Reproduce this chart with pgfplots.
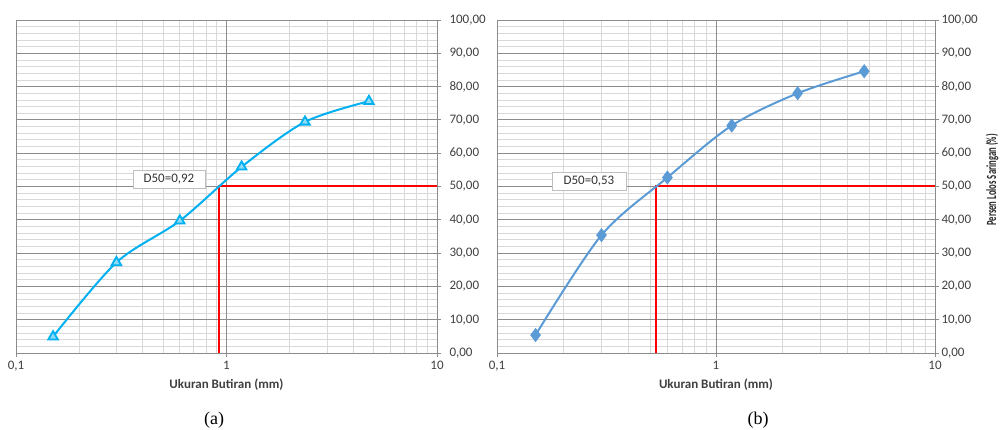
\documentclass[border=0pt]{standalone}
\usepackage{pgfplots}
\pgfplotsset{compat=1.18}
\usepackage{fontspec}
\setmainfont{Carlito}
\newfontfamily\capfont{Liberation Serif}
\definecolor{majg}{HTML}{8C8C8C}
\definecolor{ming}{HTML}{D9D9D9}
\definecolor{seriesA}{HTML}{00B0F0}
\definecolor{seriesB}{HTML}{5B9BD5}
\definecolor{boxg}{HTML}{BFBFBF}
\pgfplotsset{
  every axis/.append style={
    scale only axis,
    anchor=south west,
    height=333pt,
    xmin=0.1, xmax=10,
    ymin=0, ymax=100,
    xtick={0.1,1,10}, xticklabels={{0,1},1,10},
    ytick={0,10,...,100},
    minor ytick={2,4,6,8,12,14,16,18,22,24,26,28,32,34,36,38,42,44,46,48,52,54,56,58,62,64,66,68,72,74,76,78,82,84,86,88,92,94,96,98},
    grid=both,
    major grid style={majg, line width=0.8pt},
    minor grid style={ming, line width=0.8pt},
    axis line style={majg, line width=0.8pt},
    tick style={majg, line width=0.8pt},
    tick align=outside,
    major tick length=4pt,
    minor tick length=0pt,
    yticklabel pos=right,
    ytick pos=right,
    xtick pos=bottom,
    ticklabel style={font=\fontsize{13}{15}\selectfont, text=black!75},
    /pgf/number format/assume math mode=true,
    yticklabel={\pgfmathprintnumber[fixed, fixed zerofill, precision=2, use comma, 1000 sep={}]{\tick}},
    yticklabel style={anchor=west},
    xticklabel style={yshift=-1pt},
    xlabel={\bfseries Ukuran Butiran (mm)},
    xlabel style={font=\fontsize{13}{15}\selectfont, text=black!75, yshift=0pt},
  }
}
\begin{document}
\begin{tikzpicture}
\useasboundingbox (0,0) rectangle (1000pt,430pt);
% (a)
\begin{semilogxaxis}[at={(16pt,77pt)}, width=421pt,
  yticklabel style={xshift=5pt}]
\addplot[majg, line width=0.9pt, forget plot] coordinates {(1,0) (1,100)};
\addplot[red, line width=2pt] coordinates {(0.92,0) (0.92,50) (10,50)};
\addplot[seriesA, line width=2pt, smooth, mark=triangle*,
  mark size=5.5pt, mark options={solid, line width=1.8pt, draw=seriesA, fill=seriesA!45}]
  coordinates {(0.15,4.9) (0.3,27.2) (0.6,39.7) (1.18,55.9) (2.36,69.4) (4.75,75.6)};
\node[draw=boxg, fill=white, minimum width=72pt, minimum height=18pt,
  font=\fontsize{13}{15}\selectfont, text=black!80] at (axis cs:0.533,52.2) {D50=0,92};
\end{semilogxaxis}
% (b)
\begin{semilogxaxis}[at={(497pt,77pt)}, width=438pt,
  yticklabel style={xshift=-1pt}]
\addplot[majg, line width=0.9pt, forget plot] coordinates {(1,0) (1,100)};
\addplot[red, line width=2pt] coordinates {(0.53,0) (0.53,50) (10,50)};
\addplot[seriesB, line width=2pt, smooth, mark=diamond*,
  mark size=5.5pt, mark options={solid, draw=seriesB, fill=seriesB}]
  coordinates {(0.15,5.4) (0.3,35.4) (0.6,52.7) (1.18,68.3) (2.36,78.0) (4.75,84.6)};
\node[draw=boxg, fill=white, minimum width=74pt, minimum height=18pt,
  font=\fontsize{13}{15}\selectfont, text=black!80] at (axis cs:0.263,51.7) {D50=0,53};
\end{semilogxaxis}
\node[rotate=90, font=\bfseries\fontsize{14}{16}\selectfont, text=black!85, inner sep=0pt] at (992pt,250pt) {\scalebox{0.62}[1]{Persen Lolos Saringan (\%)}};
\node[font=\capfont\fontsize{18}{20}\selectfont] at (214pt,10pt) {(a)};
\node[font=\capfont\fontsize{18}{20}\selectfont] at (758pt,10pt) {(b)};
\end{tikzpicture}
\end{document}
